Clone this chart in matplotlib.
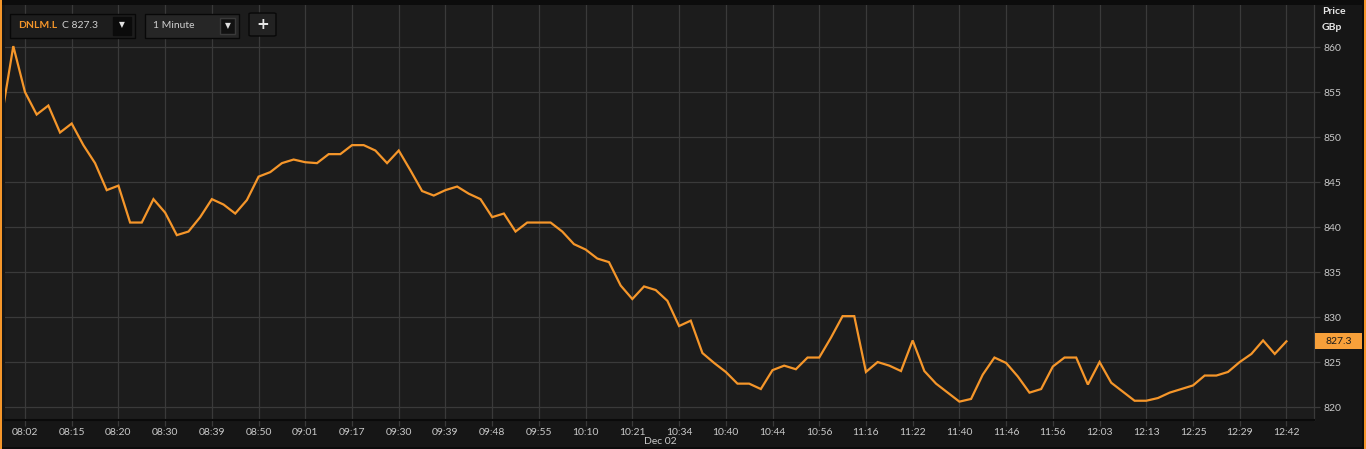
import matplotlib
matplotlib.use("Agg")
import matplotlib.pyplot as plt
from matplotlib.patches import Rectangle, FancyBboxPatch
from matplotlib.transforms import blended_transform_factory
import numpy as np

# ---- data ----
prices = [
    852.2, 860.1, 855.0, 852.5, 853.5, 850.5, 851.5, 849.1, 847.1, 844.1, 844.6, 840.5,
    840.5, 843.1, 841.6, 839.1, 839.5, 841.1, 843.1, 842.5, 841.5, 843.0, 845.6,
    846.1, 847.1, 847.5, 847.2, 847.1, 848.1, 848.1, 849.1, 849.1, 848.5, 847.1, 848.5,
    846.3, 844.0, 843.5, 844.1, 844.5, 843.7, 843.1, 841.1, 841.5, 839.5,
    840.5, 840.5, 840.5, 839.5, 838.1, 837.5, 836.5, 836.1, 833.5, 832.0, 833.4, 833.0,
    831.8, 829.0, 829.6, 826.0, 824.9, 823.9, 822.6, 822.6, 822.0, 824.1,
    824.6, 824.2, 825.5, 825.5, 827.7, 830.1, 830.1, 823.9, 825.0, 824.6, 824.0, 827.4,
    824.0, 822.6, 821.6, 820.6, 820.9, 823.6, 825.5, 824.9, 823.4, 821.6,
    822.0, 824.5, 825.5, 825.5, 822.5, 825.0, 822.7, 821.7, 820.7, 820.7, 821.0, 821.6,
    822.0, 822.4, 823.5, 823.5, 823.9, 825.0, 825.9, 827.4, 825.9, 827.3,
]
time_labels = ["08:02", "08:15", "08:20", "08:30", "08:39", "08:50", "09:01", "09:17",
               "09:30", "09:39", "09:48", "09:55", "10:10", "10:21", "10:34", "10:40",
               "10:44", "10:56", "11:16", "11:22", "11:40", "11:46", "11:56", "12:03",
               "12:13", "12:25", "12:29", "12:42"]
price_ticks = [820, 825, 830, 835, 840, 845, 850, 855, 860]
ticker = "DNLM.L"
last_price = 827.3
interval = "1 Minute"
date_label = "Dec 02"

W, H = 1366, 449
FONT = "Lato"
ORANGE = "#f5962a"

fig = plt.figure(figsize=(W / 100, H / 100), dpi=100)
fig.patch.set_facecolor("#161616")

def fx(px):
    return px / W

def fy(py):
    return 1 - py / H

# plot area
left_px, right_px, top_px, bot_px = 5, 1314, 5, 420
ax = fig.add_axes([fx(left_px), fy(bot_px), fx(right_px - left_px), (bot_px - top_px) / H])
ax.set_facecolor("#1c1c1c")

x = np.arange(len(prices))
tick_pos = [2 + 4 * i for i in range(len(time_labels))]

ax.plot(x, prices, color=ORANGE, lw=1.6, solid_joinstyle="miter", zorder=3)
ax.set_xlim(0.29, 112.36)
ax.set_ylim(818.56, 864.67)

ax.set_xticks(tick_pos)
ax.set_xticklabels(time_labels)
ax.set_yticks(price_ticks)
ax.yaxis.tick_right()
ax.grid(True, color="#3a3a3a", lw=0.9, zorder=1)
ax.tick_params(axis="x", colors="#3a3a3a", labelcolor="#c9c9c9", length=4, width=0.9,
               labelsize=7.5, pad=2)
ax.tick_params(axis="y", colors="#3a3a3a", labelcolor="#c9c9c9", length=4, width=0.9,
               labelsize=7.5, pad=3)
for lab in ax.get_xticklabels() + ax.get_yticklabels():
    lab.set_fontfamily(FONT)
for side in ["top", "left"]:
    ax.spines[side].set_visible(False)
ax.spines["bottom"].set_color("#0a0a0a")
ax.spines["bottom"].set_linewidth(1.5)
ax.spines["right"].set_color("#3a3a3a")
ax.spines["right"].set_linewidth(0.9)

# date label
fig.text(fx(660), fy(442), date_label, ha="center", va="center", color="#c9c9c9",
         fontsize=7.5, family=FONT)

# axis title
fig.text(fx(1322), fy(11), "Price", ha="left", va="center", color="#e6e6e6",
         fontsize=7.5, family=FONT, weight="bold")
fig.text(fx(1322), fy(27), "GBp", ha="left", va="center", color="#e6e6e6",
         fontsize=7.5, family=FONT, weight="bold")

# last price box
tr = blended_transform_factory(fig.transFigure, ax.transData)
box_h = 16 / 9.0
fig.patches.append(Rectangle((fx(1315), last_price - box_h / 2), fx(47), box_h,
                             transform=tr, facecolor="#f7a03a", edgecolor="none", zorder=5))
fig.text(fx(1338.5), last_price, f"{last_price:.1f}", transform=tr, ha="center", va="center",
         color="#1a1a1a", fontsize=7.5, family=FONT, zorder=6)

# top black band and borders
fig.patches.append(Rectangle((0, fy(5)), 1, 5 / H, transform=fig.transFigure,
                             facecolor="#0c0c0c", edgecolor="none", zorder=4))
fig.patches.append(Rectangle((0, 0), fx(2), 1, transform=fig.transFigure,
                             facecolor=ORANGE, edgecolor="none", zorder=7))
fig.patches.append(Rectangle((fx(1362), 0), fx(2), 1, transform=fig.transFigure,
                             facecolor="#0c0c0c", edgecolor="none", zorder=7))
fig.patches.append(Rectangle((fx(1364), 0), fx(2), 1, transform=fig.transFigure,
                             facecolor=ORANGE, edgecolor="none", zorder=7))
fig.patches.append(Rectangle((0, 0), 1, 2.5 / H, transform=fig.transFigure,
                             facecolor="#0c0c0c", edgecolor="none", zorder=4))

# controls
def box(x0, y0, x1, y1, fc, ec="#080808", rounded=False):
    if rounded:
        p = FancyBboxPatch((fx(x0), fy(y1)), fx(x1 - x0), (y1 - y0) / H,
                           boxstyle="round,pad=0,rounding_size=0.002",
                           transform=fig.transFigure, facecolor=fc, edgecolor=ec,
                           lw=1, zorder=8)
    else:
        p = Rectangle((fx(x0), fy(y1)), fx(x1 - x0), (y1 - y0) / H,
                      transform=fig.transFigure, facecolor=fc, edgecolor=ec, lw=1, zorder=8)
    fig.patches.append(p)

box(10, 14, 135, 38, "#1d1d1d")
box(113, 17, 131, 35, "#0b0b0b", ec="#0b0b0b")
fig.text(fx(18), fy(26), ticker, ha="left", va="center", color=ORANGE, fontsize=7.5,
         family=FONT, weight="bold", zorder=9)
fig.text(fx(62), fy(26), f"C {last_price:.1f}", ha="left", va="center", color="#cfcfcf",
         fontsize=7.5, family=FONT, zorder=9)
fig.text(fx(122), fy(25), "▼", ha="center", va="center", color="#e0e0e0", fontsize=5.5,
         family="DejaVu Sans", zorder=9)

box(145, 14, 239, 38, "#262626")
box(220, 18, 235, 34, "#111111", ec="#3a3a3a")
fig.text(fx(153), fy(26), interval, ha="left", va="center", color="#cfcfcf", fontsize=7.5,
         family=FONT, zorder=9)
fig.text(fx(227.5), fy(26), "▼", ha="center", va="center", color="#e0e0e0", fontsize=5.5,
         family="DejaVu Sans", zorder=9)

box(249, 13, 276, 36, "#222222", rounded=True)
fig.text(fx(262.5), fy(24.5), "+", ha="center", va="center", color="#e6e6e6", fontsize=11,
         family="DejaVu Sans", weight="bold", zorder=9)

fig.savefig("out.png", dpi=100, facecolor=fig.get_facecolor())
